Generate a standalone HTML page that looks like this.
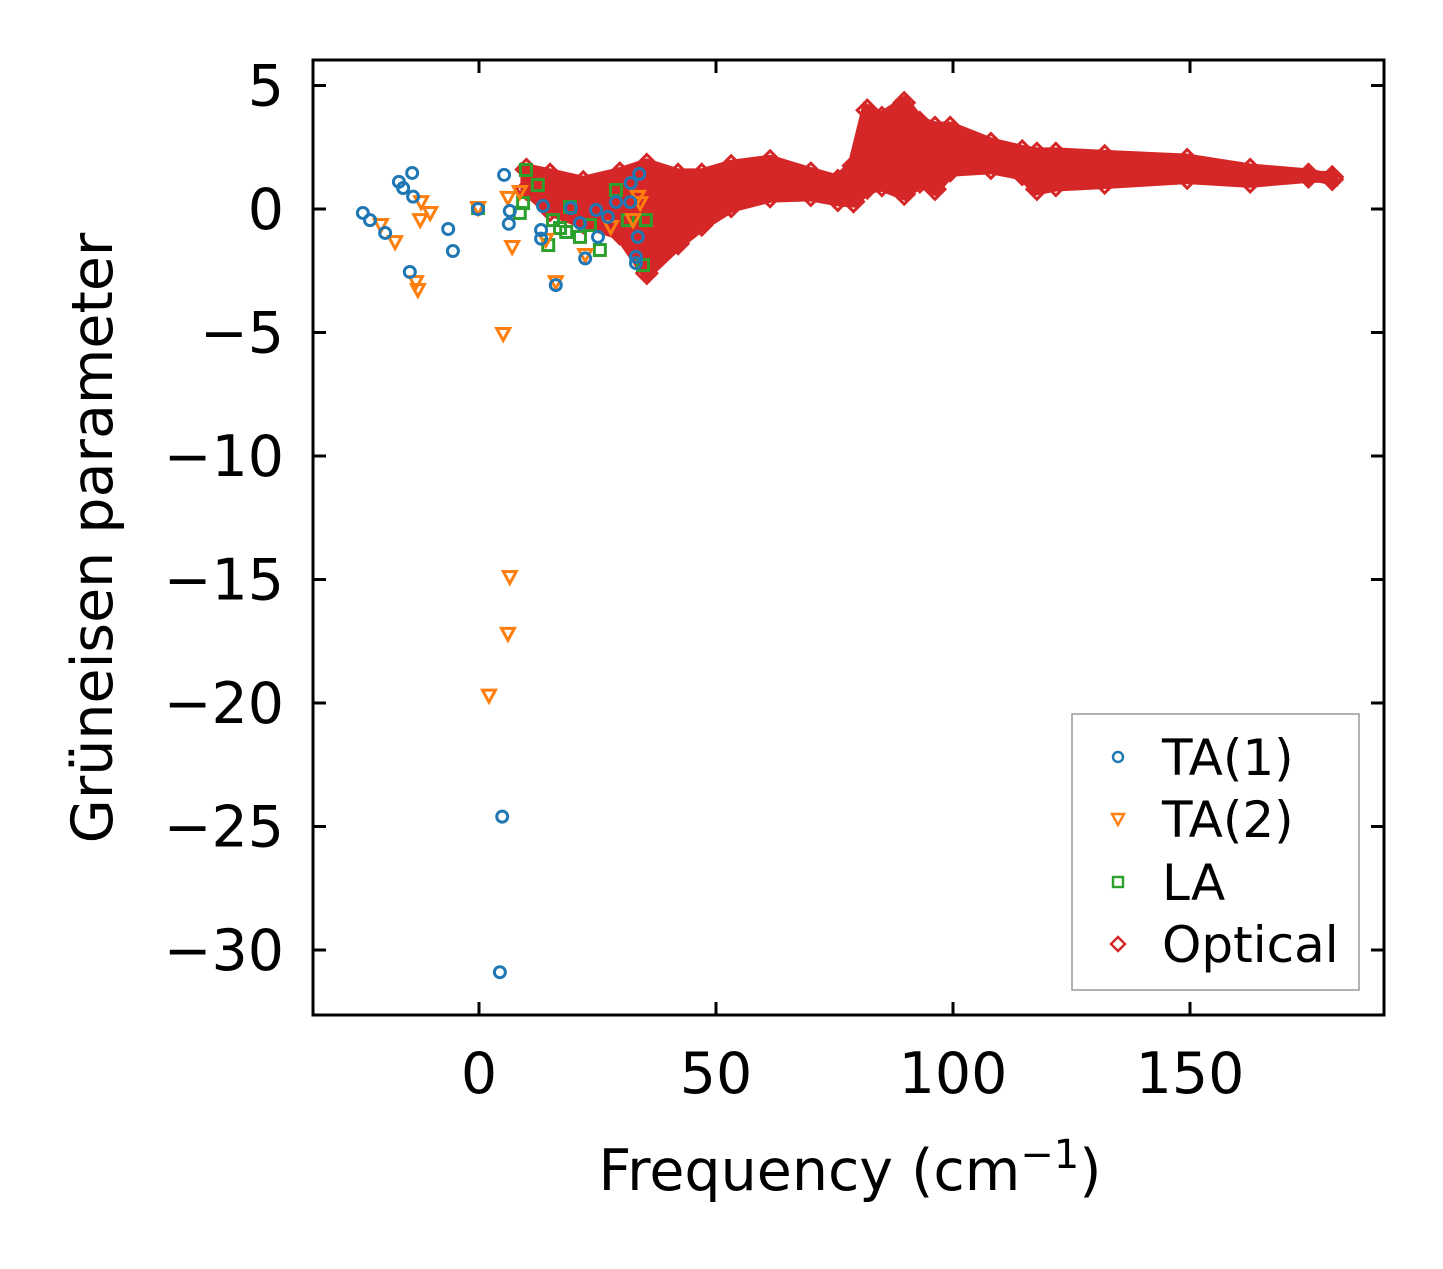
<!DOCTYPE html>
<html><head><meta charset="utf-8"><style>
body{margin:0;background:#fff;}
svg text{font-family:"DejaVu Sans","Liberation Sans",sans-serif;}
</style></head><body>
<svg id="chart" width="1443" height="1264" viewBox="0 0 1443 1264" xmlns="http://www.w3.org/2000/svg">
<rect width="1443" height="1264" fill="#fff"/>
<g id="marks"></g>
<rect x="313" y="60" width="1071" height="955" fill="none" stroke="#000" stroke-width="3"/>
<g id="axes"></g>
<text x="850" y="1190" font-size="57" text-anchor="middle">Frequency (cm<tspan dy="-22" font-size="40">−1</tspan><tspan dy="22">)</tspan></text>
<text transform="translate(112,538) rotate(-90)" font-size="57" text-anchor="middle">Grüneisen parameter</text>
<g>
<rect x="1072" y="714" width="287" height="276" fill="#fff" fill-opacity="0.8" stroke="#999" stroke-width="1.5"/>
<circle cx="1118" cy="757" r="5" fill="none" stroke="#1f77b4" stroke-width="2.4"/>
<text x="1162" y="775" font-size="50">TA(1)</text>
<path d="M1112,814 L1124,814 L1118,825 Z" fill="none" stroke="#ff7f0e" stroke-width="2.4"/>
<text x="1162" y="837" font-size="50">TA(2)</text>
<rect x="1113" y="877" width="10" height="10" fill="none" stroke="#2ca02c" stroke-width="2.4"/>
<text x="1162" y="900" font-size="50">LA</text>
<path d="M1118,937 L1125,944 L1118,951 L1111,944 Z" fill="none" stroke="#d62728" stroke-width="2.4"/>
<text x="1162" y="962" font-size="50">Optical</text>
</g>
</svg>
<script>
const xTicks=[0,50,100,150];
const yTicks=[5,0,-5,-10,-15,-20,-25,-30];
const ta1F=[-24.5,-23,-19.8,-16.9,-16,-14.1,-13.9,-14.6,-6.5,-5.5,-0.2,5.3,6.5,6.3,13.5,13.1,13.1,16.2,19.4,21.3,22.4,24.7,27.2,25.1,28.9,31.9,32,33.8,33.5,33.1,33.1,4.9,4.4];
const ta1G=[-0.16,-0.45,-0.97,1.1,0.85,1.46,0.5,-2.55,-0.81,-1.7,0,1.38,-0.08,-0.6,0.12,-0.85,-1.2,-3.08,0.04,-0.57,-2.0,-0.04,-0.32,-1.13,0.28,0.28,1.05,1.42,-1.13,-1.94,-2.19,-24.6,-30.9];
const ta2F=[-20.7,-17.7,-12.2,-12.4,-10.3,-12.9,-13.3,-0.2,6.1,8.6,7,14.1,22.4,16.2,27.8,33.5,34,32.5,5.1,6.5,6.1,2.1];
const ta2G=[-0.65,-1.34,0.28,-0.45,-0.16,-3.28,-2.96,0.04,0.45,0.69,-1.54,-1.25,-1.86,-2.96,-0.73,0.49,0.24,-0.45,-5.06,-14.9,-17.2,-19.7];
const laF=[9.9,12.4,9.3,8.6,15.6,17.1,19.2,18.4,21.3,14.6,25.5,28.9,31.4,35.2,34.6,-0.2,23.4];
const laG=[1.58,0.97,0.24,-0.16,-0.45,-0.77,0.08,-0.93,-1.13,-1.46,-1.66,0.77,-0.45,-0.45,-2.27,0.04,-0.65];
const optF=[10,15,22,29.7,35.4,42,47,53.2,61.4,70,75.7,79,81.9,85,89.7,93,96.2,99.4,108,114.6,117.7,121.7,132,149.4,162.7,175,180];
const optHigh=[1.6,1.4,1.1,1.45,1.8,1.4,1.4,1.75,1.95,1.45,1.15,1.75,4.0,3.7,4.3,3.5,3.3,3.3,2.65,2.35,2.25,2.25,2.15,2.0,1.6,1.4,1.2];
const optLow=[0.8,-0.05,-0.55,-1.0,-2.6,-1.4,-0.65,0.1,0.5,0.55,0.35,0.3,0.85,0.95,0.6,1.1,0.8,1.55,1.65,1.4,0.8,0.95,1.05,1.25,1.1,1.3,1.3];

const X=f=>479+f*4.74;
const Y=g=>209-g*24.7;
const NS='http://www.w3.org/2000/svg';
const marks=document.getElementById('marks');
const axes=document.getElementById('axes');
function mk(tag,attrs,parent){const e=document.createElementNS(NS,tag);for(const k in attrs)e.setAttribute(k,attrs[k]);parent.appendChild(e);return e;}

xTicks.forEach(t=>{
  const x=X(t);
  const a=mk('line',{x1:x,x2:x,y1:1015,y2:1002,stroke:'#000','stroke-width':3},axes);
  
  
  const b=mk('line',{x1:x,x2:x,y1:60,y2:73,stroke:'#000','stroke-width':3},axes);
  
  
  const l=mk('text',{x:x,y:1093,'font-size':57,'text-anchor':'middle'},axes);
  l.textContent=String(t);
  
  
});
yTicks.forEach(t=>{
  const y=Y(t);
  const a=mk('line',{x1:313,x2:326,y1:y,y2:y,stroke:'#000','stroke-width':3},axes);
  
  
  const b=mk('line',{x1:1371,x2:1384,y1:y,y2:y,stroke:'#000','stroke-width':3},axes);
  
  
  const l=mk('text',{x:284,y:y+20,'font-size':57,'text-anchor':'end'},axes);
  l.textContent=(t<0?'−'+Math.abs(t):String(t));
  
  
});

let pts=optF.map((f,i)=>X(f)+','+Y(optHigh[i]));
for(let i=optF.length-1;i>=0;i--)pts.push(X(optF[i])+','+Y(optLow[i]));
const band=mk('polygon',{points:pts.join(' '),fill:'#d62728',stroke:'#d62728','stroke-width':12,'stroke-linejoin':'miter'},marks);


function diamond(f,g){
  const x=X(f),y=Y(g);
  const d=mk('path',{d:`M${x},${y-10} L${x+10},${y} L${x},${y+10} L${x-10},${y} Z`,fill:'none',stroke:'#d62728','stroke-width':3},marks);
  
  
}
optF.forEach((f,i)=>{diamond(f,optHigh[i]);diamond(f,optLow[i]);});

laF.forEach((f,i)=>{
  const x=X(f),y=Y(laG[i]);
  const r=mk('rect',{x:x-5.5,y:y-5.5,width:11,height:11,fill:'none',stroke:'#2ca02c','stroke-width':3},marks);
  
  
});
ta2F.forEach((f,i)=>{
  const x=X(f),y=Y(ta2G[i]);
  const p=mk('path',{d:`M${x-6.5},${y-5.5} L${x+6.5},${y-5.5} L${x},${y+6.5} Z`,fill:'none',stroke:'#ff7f0e','stroke-width':3},marks);
  
  
});
ta1F.forEach((f,i)=>{
  const c=mk('circle',{cx:X(f),cy:Y(ta1G[i]),r:5.5,fill:'none',stroke:'#1f77b4','stroke-width':3},marks);
  
  
});
</script>
</body></html>
